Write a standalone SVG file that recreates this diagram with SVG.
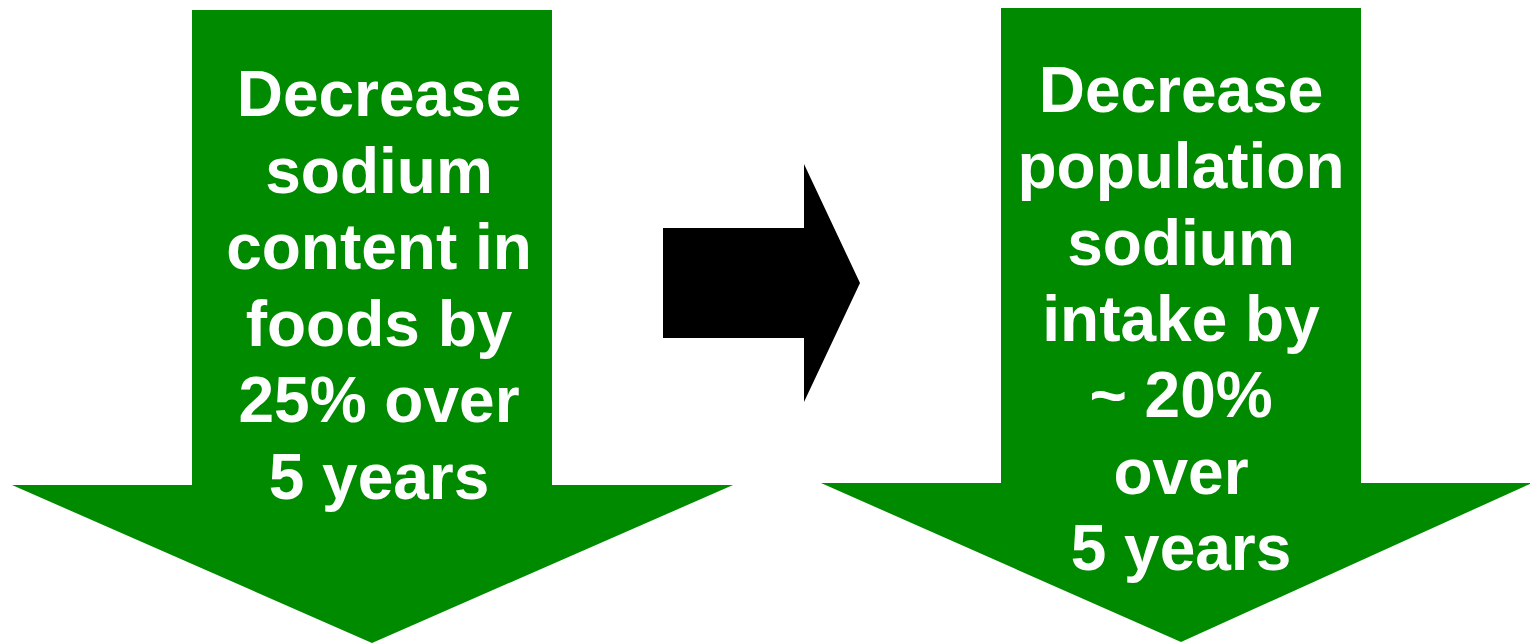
<svg xmlns="http://www.w3.org/2000/svg" width="1530" height="644" viewBox="0 0 1530 644">
<style>
.g{fill:#008a00}
.t{fill:#fff;font-family:"Liberation Sans",Arial,sans-serif;font-weight:bold;font-size:64px;text-anchor:middle}
</style>
<rect width="1530" height="644" fill="#fff"/>
<g id="left-arrow">
<polygon class="g" points="192,10 552,10 552,485 733,485 372,643 12,485 192,485"/>
<text class="t" x="379"><tspan x="379" y="116">Decrease</tspan><tspan x="379" y="192.6">sodium</tspan><tspan x="379" y="269.2">content in</tspan><tspan x="379" y="345.8">foods by</tspan><tspan x="379" y="422.4">25% over</tspan><tspan x="379" y="499">5 years</tspan></text>
</g>
<g id="connectors">
<polygon fill="#000" points="663,228 804,228 804,164 860,283 804,402 804,338 663,338"/>
</g>
<g id="right-arrow">
<polygon class="g" points="1001,8 1361,8 1361,483 1532,483 1181,642 821,483 1001,483"/>
<text class="t" x="1181"><tspan x="1181" y="112">Decrease</tspan><tspan x="1181" y="188.3">population</tspan><tspan x="1181" y="264.7">sodium</tspan><tspan x="1181" y="341">intake by</tspan><tspan x="1181" y="417.3">~ 20%</tspan><tspan x="1181" y="493.7">over</tspan><tspan x="1181" y="570">5 years</tspan></text>
</g>
</svg>
